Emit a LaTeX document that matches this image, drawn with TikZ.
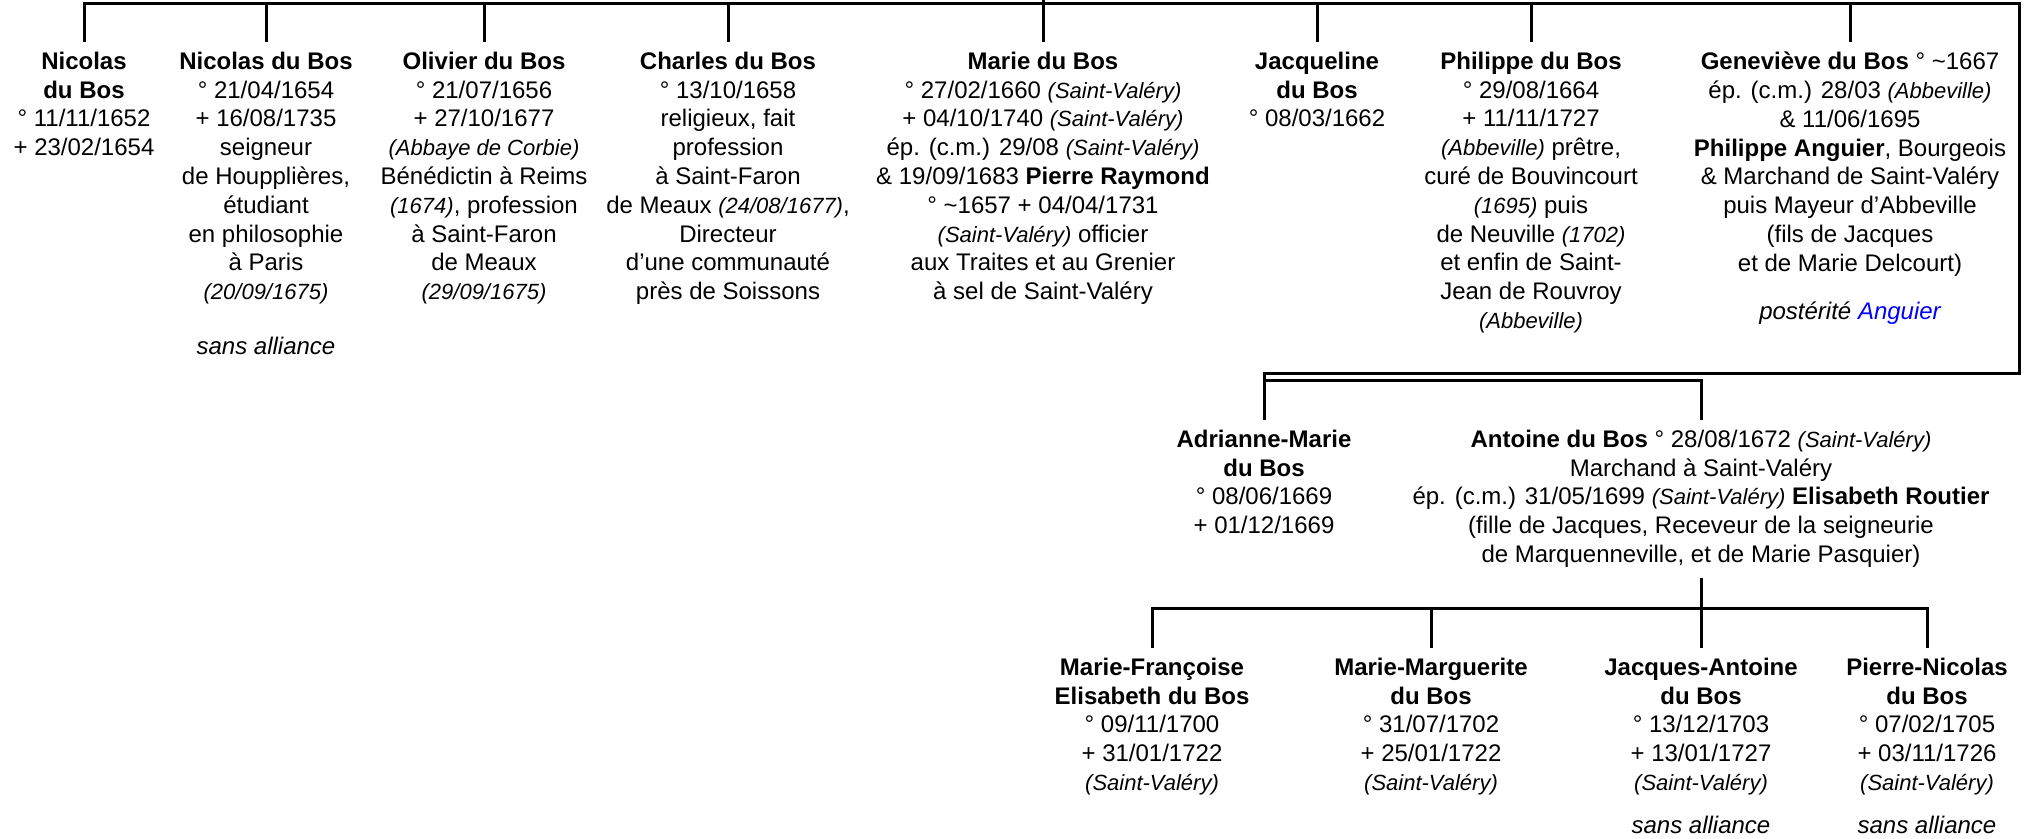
\documentclass[tikz,border=0pt]{standalone}
\usepackage{fontspec}
\setmainfont{Liberation Sans}
\usetikzlibrary{positioning}
\newcommand{\lieu}[1]{{\fontsize{11pt}{14.4pt}\selectfont\itshape #1}}

\begin{document}
\begin{tikzpicture}[x=0.5pt,y=-0.5pt,
        person/.style={align=center,inner sep=0pt,outer ysep=5pt,anchor=north,
            font=\fontsize{12pt}{14.4pt}\selectfont},
        tie/.style={line width=1.5pt}]
        \def\barTop{4}
        \def\barMid{374}
        \def\barSib{381}
        \def\barLow{609}
        \def\rightEdge{2019}
        \def\rowA{42}
        \def\rowB{420}
        \def\rowC{648}
        \useasboundingbox (0,0) rectangle (2026,839);

        \coordinate (root) at (1043,0);
        \coordinate (bar) at (0,\barTop);
        \coordinate (barEnd) at (\rightEdge,\barMid);
        \coordinate (sibBar) at (0,\barSib);
        \coordinate (lowBar) at (0,\barLow);

        \node[person] (nicolas) at (84,\rowA) {\textbf{Nicolas}\\\textbf{du Bos}\\° 11/11/1652\\+ 23/02/1654};
        \node[person] (nicolasB) at (266,\rowA) {\textbf{Nicolas du Bos}\\° 21/04/1654\\+ 16/08/1735\\seigneur\\de Houpplières,\\étudiant\\en philosophie\\à Paris\\\lieu{(20/09/1675)}\\[13pt]\textit{sans alliance}};
        \node[person] (olivier) at (484,\rowA) {\textbf{Olivier du Bos}\\° 21/07/1656\\+ 27/10/1677\\\lieu{(Abbaye de Corbie)}\\Bénédictin à Reims\\\lieu{(1674)}, profession\\à Saint-Faron\\de Meaux\\\lieu{(29/09/1675)}};
        \node[person] (charles) at (728,\rowA) {\textbf{Charles du Bos}\\° 13/10/1658\\religieux, fait\\profession\\à Saint-Faron\\de Meaux \lieu{(24/08/1677)},\\Directeur\\d'une communauté\\près de Soissons};
        \node[person] (marie) at (1043,\rowA) {\textbf{Marie du Bos}\\° 27/02/1660 \lieu{(Saint-Valéry)}\\+ 04/10/1740 \lieu{(Saint-Valéry)}\\ép. (c.m.) 29/08 \lieu{(Saint-Valéry)}\\\& 19/09/1683 \textbf{Pierre Raymond}\\° \textasciitilde1657 + 04/04/1731\\\lieu{(Saint-Valéry)} officier\\aux Traites et au Grenier\\à sel de Saint-Valéry};
        \node[person] (jacqueline) at (1317,\rowA) {\textbf{Jacqueline}\\\textbf{du Bos}\\° 08/03/1662};
        \node[person] (philippe) at (1531,\rowA) {\textbf{Philippe du Bos}\\° 29/08/1664\\+ 11/11/1727\\\lieu{(Abbeville)} prêtre,\\curé de Bouvincourt\\\lieu{(1695)} puis\\de Neuville \lieu{(1702)}\\et enfin de Saint-\\Jean de Rouvroy\\\lieu{(Abbeville)}};
        \node[person] (genevieve) at (1850,\rowA) {\textbf{Geneviève du Bos} ° \textasciitilde1667\\ép. (c.m.) 28/03 \lieu{(Abbeville)}\\\& 11/06/1695\\\textbf{Philippe Anguier}, Bourgeois\\\& Marchand de Saint-Valéry\\puis Mayeur d'Abbeville\\(fils de Jacques\\et de Marie Delcourt)\\[9.8pt]\textit{postérité \textcolor{blue}{Anguier}}};

        \node[person] (adrianne) at (1264,\rowB) {\textbf{Adrianne-Marie}\\\textbf{du Bos}\\° 08/06/1669\\+ 01/12/1669};
        \node[person] (antoine) at (1701,\rowB) {\textbf{Antoine du Bos} ° 28/08/1672 \lieu{(Saint-Valéry)}\\Marchand à Saint-Valéry\\ép. (c.m.) 31/05/1699 \lieu{(Saint-Valéry)} \textbf{Elisabeth Routier}\\(fille de Jacques, Receveur de la seigneurie\\de Marquenneville, et de Marie Pasquier)};

        \node[person] (mfrancoise) at (1152,\rowC) {\textbf{Marie-Françoise}\\\textbf{Elisabeth du Bos}\\° 09/11/1700\\+ 31/01/1722\\\lieu{(Saint-Valéry)}};
        \node[person] (mmarguerite) at (1431,\rowC) {\textbf{Marie-Marguerite}\\\textbf{du Bos}\\° 31/07/1702\\+ 25/01/1722\\\lieu{(Saint-Valéry)}};
        \node[person] (jantoine) at (1701,\rowC) {\textbf{Jacques-Antoine}\\\textbf{du Bos}\\° 13/12/1703\\+ 13/01/1727\\\lieu{(Saint-Valéry)}\\[7.1pt]\textit{sans alliance}};
        \node[person] (pnicolas) at (1927,\rowC) {\textbf{Pierre-Nicolas}\\\textbf{du Bos}\\° 07/02/1705\\+ 03/11/1726\\\lieu{(Saint-Valéry)}\\[7.1pt]\textit{sans alliance}};

        \draw[tie] (root) -- (marie.north);
        \draw[tie] (nicolas.north) |- (barEnd |- bar) -- (barEnd) -| (adrianne.north);
        \foreach \who in {nicolasB,olivier,charles,jacqueline,philippe,genevieve}
            \draw[tie] (\who.north) -- (\who.north |- bar);
        \draw[tie] (adrianne.north |- sibBar) -| (antoine.north);
        \draw[tie] (antoine.south) -- (antoine.south |- lowBar);
        \draw[tie] (mfrancoise.north) |- (pnicolas.north |- lowBar) -- (pnicolas.north);
        \foreach \who in {mmarguerite,jantoine}
            \draw[tie] (\who.north) -- (\who.north |- lowBar);
    \end{tikzpicture}
\end{document}
